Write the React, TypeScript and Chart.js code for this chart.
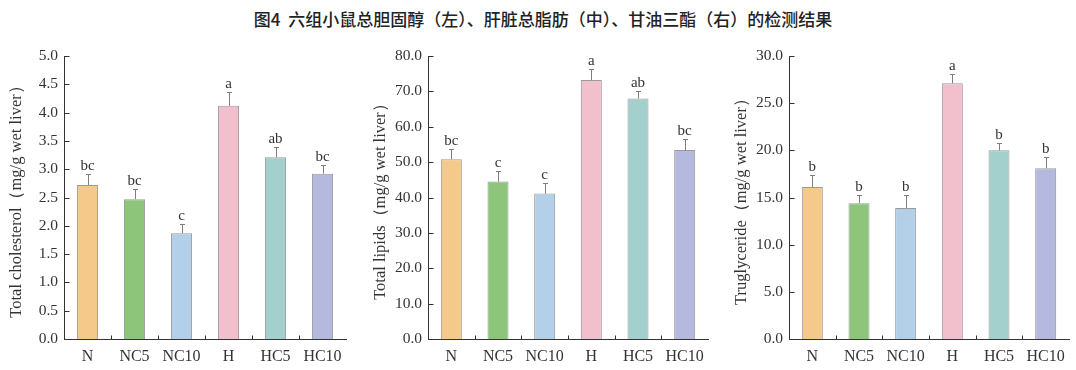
import React, { useEffect, useRef } from 'react';
import { Chart, registerables } from 'chart.js';
Chart.register(...registerables);

const categories = ['N', 'NC5', 'NC10', 'H', 'HC5', 'HC10'];
const barColors = ['#F5C98A', '#8DC67B', '#B4CFE8', '#F2BFCD', '#A3D0CC', '#B6B9DE'];

const cholesterol = [2.72, 2.47, 1.87, 4.12, 3.21, 2.92];
const cholesterolErr = [0.2, 0.18, 0.16, 0.25, 0.19, 0.15];
const cholesterolLetters = ['bc', 'bc', 'c', 'a', 'ab', 'bc'];

const lipids = [50.8, 44.5, 41.1, 73.2, 68.0, 53.4];
const lipidsErr = [2.9, 3.1, 2.9, 3.0, 2.0, 3.0];
const lipidsLetters = ['bc', 'c', 'c', 'a', 'ab', 'bc'];

const triglyceride = [16.1, 14.4, 13.9, 27.1, 20.0, 18.1];
const triglycerideErr = [1.3, 0.85, 1.35, 0.95, 0.75, 1.2];
const triglycerideLetters = ['b', 'b', 'b', 'a', 'b', 'b'];

const mainTitle = '图4  六组小鼠总胆固醇（左）、肝脏总脂肪（中）、甘油三酯（右）的检测结果';

const FONT = "'Liberation Serif', 'DejaVu Serif', serif";
const AXIS = '#333333';

type Panel = {
  title: string;
  values: number[];
  errors: number[];
  letters: string[];
  max: number;
  step: number;
  canvasLeft: number;
  canvasWidth: number;
  chartLeft: number;
  chartRight: number;
};

const panels: Panel[] = [
  { title: 'Total cholesterol（mg/g wet liver）', values: cholesterol, errors: cholesterolErr, letters: cholesterolLetters, max: 5, step: 0.5, canvasLeft: 0, canvasWidth: 356, chartLeft: 64, chartRight: 346 },
  { title: 'Total lipids（mg/g wet liver）', values: lipids, errors: lipidsErr, letters: lipidsLetters, max: 80, step: 10, canvasLeft: 358, canvasWidth: 356, chartLeft: 428, chartRight: 708 },
  { title: 'Truglyceride（mg/g wet liver）', values: triglyceride, errors: triglycerideErr, letters: triglycerideLetters, max: 30, step: 5, canvasLeft: 716, canvasWidth: 360, chartLeft: 789, chartRight: 1069 },
];

const CANVAS_TOP = 30;
const CANVAS_H = 340;
const CHART_TOP = 56;
const CHART_BOTTOM = 339;

function PanelChart({ p }: { p: Panel }) {
  const ref = useRef<HTMLCanvasElement | null>(null);
  useEffect(() => {
    if (!ref.current) return;
    const annot = {
      id: 'annot',
      afterDatasetsDraw(chart: any) {
        const { ctx } = chart;
        const meta = chart.getDatasetMeta(0);
        const y = chart.scales.y;
        const xs = chart.scales.x;
        ctx.save();
        meta.data.forEach((bar: any, i: number) => {
          const v = p.values[i];
          const e = p.errors[i];
          const yTop = y.getPixelForValue(v);
          const yErr = Math.round(y.getPixelForValue(v + e)) + 0.5;
          const x = Math.round(bar.x) + 0.5;
          ctx.strokeStyle = '#7d7d7d';
          ctx.lineWidth = 1;
          ctx.beginPath();
          ctx.moveTo(x, yTop);
          ctx.lineTo(x, yErr);
          ctx.moveTo(x - 2.5, yErr);
          ctx.lineTo(x + 2.5, yErr);
          ctx.stroke();
          ctx.fillStyle = AXIS;
          ctx.font = `15px ${FONT}`;
          ctx.textAlign = 'center';
          ctx.textBaseline = 'alphabetic';
          ctx.fillText(p.letters[i], bar.x, yErr - 5);
        });
        // inward ticks
        ctx.strokeStyle = AXIS;
        ctx.lineWidth = 1;
        ctx.beginPath();
        const left = Math.round(chart.chartArea.left) + 0.5;
        y.ticks.forEach((t: any) => {
          const py = Math.round(y.getPixelForValue(t.value)) + 0.5;
          ctx.moveTo(left, py);
          ctx.lineTo(left + 5, py);
        });
        const bottom = Math.round(chart.chartArea.bottom) + 0.5;
        const half = (xs.getPixelForValue(1) - xs.getPixelForValue(0)) / 2;
        for (let i = 1; i < categories.length; i++) {
          const px = Math.round(xs.getPixelForValue(i) - half) + 0.5;
          ctx.moveTo(px, bottom);
          ctx.lineTo(px, bottom - 4);
        }
        ctx.stroke();
        ctx.restore();
      },
    };
    const chart = new Chart(ref.current, {
      type: 'bar',
      data: {
        labels: categories,
        datasets: [
          {
            data: p.values,
            backgroundColor: barColors,
            borderColor: '#9a9a9a',
            borderWidth: 1,
            barPercentage: 0.45,
            categoryPercentage: 1,
          },
        ],
      },
      options: {
        responsive: false,
        animation: false,
        devicePixelRatio: 1,
        layout: {
          padding: {
            top: CHART_TOP - CANVAS_TOP,
            left: 0,
            bottom: 0,
            right: p.canvasWidth - (p.chartRight - p.canvasLeft),
          },
        },
        plugins: { legend: { display: false }, tooltip: { enabled: false }, title: { display: false } },
        scales: {
          x: {
            grid: { display: false, drawTicks: false },
            border: { display: true, color: AXIS, width: 1 },
            ticks: { color: AXIS, font: { family: FONT, size: 16 }, padding: 8, maxRotation: 0, autoSkip: false },
            afterFit: (s: any) => {
              s.height = CANVAS_TOP + CANVAS_H - CHART_BOTTOM;
            },
          },
          y: {
            min: 0,
            max: p.max,
            grid: { display: false, drawTicks: false },
            border: { display: true, color: AXIS, width: 1 },
            ticks: {
              stepSize: p.step,
              color: AXIS,
              font: { family: FONT, size: 15.5 },
              padding: 6,
              callback: (v: any) => Number(v).toFixed(1),
            },
            title: {
              display: true,
              text: p.title,
              color: AXIS,
              font: { family: FONT, size: 16.5 },
              padding: { top: p.chartLeft - p.canvasLeft - 57, bottom: 0 },
            },
            afterFit: (s: any) => {
              s.width = p.chartLeft - p.canvasLeft;
            },
          },
        },
      },
      plugins: [annot],
    } as any);
    return () => chart.destroy();
  }, [p]);
  return (
    <canvas
      ref={ref}
      width={p.canvasWidth}
      height={CANVAS_H}
      style={{ position: 'absolute', left: p.canvasLeft, top: CANVAS_TOP, width: p.canvasWidth, height: CANVAS_H }}
    />
  );
}

export default function App() {
  return (
    <div style={{ position: 'fixed', left: 0, top: 0, width: 1076, height: 370, background: '#ffffff', overflow: 'hidden' }}>
      <div
        style={{
          position: 'absolute',
          left: 0,
          top: 7,
          width: 1086,
          textAlign: 'center',
          fontFamily: "'Noto Sans CJK SC', sans-serif",
          fontWeight: 500,
          fontSize: 17,
          lineHeight: '24px',
          color: '#222222',
          whiteSpace: 'pre',
        }}
      >
        {mainTitle}
      </div>
      {panels.map((p, i) => (
        <PanelChart key={i} p={p} />
      ))}
    </div>
  );
}
